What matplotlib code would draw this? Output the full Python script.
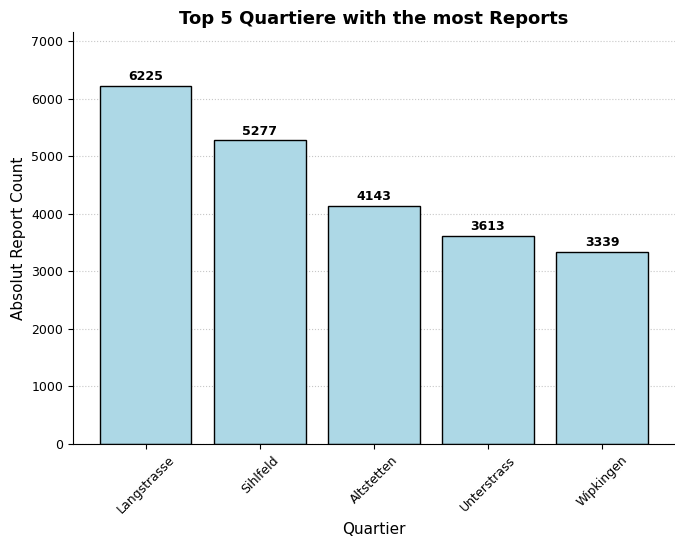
import matplotlib
matplotlib.use("Agg")
import matplotlib.pyplot as plt

quartiere = ["Langstrasse", "Sihlfeld", "Altstetten", "Unterstrass", "Wipkingen"]
counts = [6225, 5277, 4143, 3613, 3339]

fig, ax = plt.subplots(figsize=(6.75, 5.38), dpi=100)
bars = ax.bar(quartiere, counts, color="lightblue", edgecolor="black", width=0.8)

for b, v in zip(bars, counts):
    ax.text(b.get_x() + b.get_width() / 2, v + 50, str(v),
            ha="center", va="bottom", fontsize=9, fontweight="bold")

ax.set_ylim(0, max(counts) * 1.15)
ax.set_title("Top 5 Quartiere with the most Reports", fontsize=13, fontweight="bold")
ax.set_xlabel("Quartier", fontsize=11)
ax.set_ylabel("Absolut Report Count", fontsize=11)
ax.tick_params(axis="both", labelsize=9)
ax.tick_params(axis="x", rotation=45)
ax.grid(axis="y", linestyle=":", alpha=0.7)
ax.set_axisbelow(True)
ax.spines["top"].set_visible(False)
ax.spines["right"].set_visible(False)

plt.subplots_adjust(left=0.108, right=1.0, top=0.94, bottom=0.175)
plt.savefig("out.png")
